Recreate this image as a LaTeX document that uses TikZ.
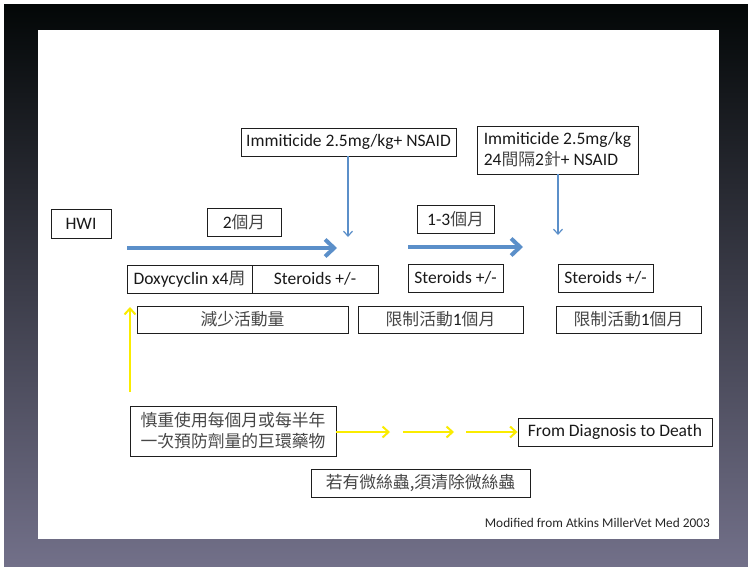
\documentclass[tikz,border=0pt]{standalone}
\usepackage{fontspec}
\setmainfont{Carlito}
\newfontfamily\cjkfont[Scale=0.96]{Noto Sans CJK TC}
\usetikzlibrary{arrows.meta}
\definecolor{arrowblue}{RGB}{91,143,201}
\definecolor{arrowyellow}{RGB}{250,236,0}
\definecolor{bgtop}{RGB}{3,7,7}
\definecolor{bgbottom}{RGB}{114,112,137}
\definecolor{boxline}{RGB}{30,30,30}
\newcommand{\zht}[1]{{\cjkfont\color{black!72}#1}}
\tikzset{
  box/.style={draw=boxline, line width=0.9pt, inner sep=0pt, align=center,
    font=\fontsize{17.5}{20}\selectfont, text=black!90},
  bigarrow/.style={arrowblue, line width=4.5pt,
    -{Straight Barb[length=9pt,width=17pt,line width=4pt]}},
  thinarrow/.style={arrowblue, line width=1.2pt,
    -{Straight Barb[length=5pt,width=9pt,line width=1.2pt]}},
  yarrow/.style={arrowyellow, line width=2pt,
    -{Straight Barb[length=6pt,width=11pt,line width=2pt]}}
}
\begin{document}
\begin{tikzpicture}[x=1pt,y=-1pt]
\useasboundingbox (0,0) rectangle (748,566);
\fill[white] (0,0) rectangle (748,566);
\shade[top color=bgtop, bottom color=bgbottom] (4,4) rectangle (748,566);
\fill[white] (38,30) rectangle (719,539);

% nodes
\node[box, minimum width=60, minimum height=29] (hwi) at (81,223.5) {HWI};
\node[box, minimum width=74, minimum height=28] (two) at (244,222) {2\zht{個月}};
\node[box, minimum width=215, minimum height=28] (imm1) at (348.5,142) {Immiticide 2.5mg/kg+ NSAID};
\node[box, minimum width=125, minimum height=28] (doxy) at (189.5,279) {Doxycyclin x4\zht{周}};
\node[box, minimum width=126, minimum height=28] (ster1) at (315,279) {Steroids +/-};
\node[box, minimum width=211, minimum height=27] (rest0) at (242.5,319.5) {\zht{減少活動量}};
\node[box, minimum width=165, minimum height=27] (rest1) at (440.5,319.5) {\zht{限制活動}1\zht{個月}};
\node[box, minimum width=145, minimum height=27] (rest2) at (628.5,319.5) {\zht{限制活動}1\zht{個月}};
\node[box, minimum width=77, minimum height=28] (onethree) at (455.5,219) {1-3\zht{個月}};
\node[box, minimum width=95, minimum height=28] (ster2) at (455.5,278) {Steroids +/-};
\node[box, minimum width=95, minimum height=28] (ster3) at (605.5,278) {Steroids +/-};
\node[box, minimum width=161, minimum height=48, align=left,
  font=\fontsize{17.5}{21}\selectfont] (imm2) at (557.5,150)
  {Immiticide 2.5mg/kg\\24\zht{間隔}2\zht{針}+ NSAID};
\node[box, minimum width=206, minimum height=50, font=\fontsize{17.5}{21}\selectfont] (prev) at (233,431)
  {\zht{慎重使用每個月或每半年}\\\zht{一次預防劑量的巨環藥物}};
\node[box, minimum width=194, minimum height=28] (death) at (615,432) {From Diagnosis to Death};
\node[box, minimum width=219, minimum height=28] (micro) at (420.5,483) {\zht{若有微絲蟲,須清除微絲蟲}};
\node[anchor=east, inner sep=0pt, font=\fontsize{13.3}{15}\selectfont, text=black!85] (src) at (710,523)
  {Modified from Atkins MillerVet Med 2003};

% coordinates
\coordinate (b1s) at (127,248);
\coordinate (b1e) at (337,248);
\coordinate (b2s) at (408,247);
\coordinate (b2e) at (523,247);
\coordinate (t1e) at (348,237);
\coordinate (t2e) at (558,235);
\coordinate (yvs) at (130,392);
\coordinate (yve) at (130,307);
\coordinate (y1e) at (390,432);
\coordinate (y2s) at (403,432);
\coordinate (y2e) at (454,432);
\coordinate (y3s) at (466,432);

% connectors
\draw[bigarrow] (b1s) -- (b1e);
\draw[bigarrow] (b2s) -- (b2e);
\draw[thinarrow] (imm1.south -| t1e) -- (t1e);
\draw[thinarrow] (imm2.south -| t2e) -- (t2e);
\draw[yarrow] (yvs) -- (yve);
\draw[yarrow] (prev.east |- y1e) -- (y1e);
\draw[yarrow] (y2s) -- (y2e);
\draw[yarrow] (y3s) -- (death.west);
\end{tikzpicture}
\end{document}
